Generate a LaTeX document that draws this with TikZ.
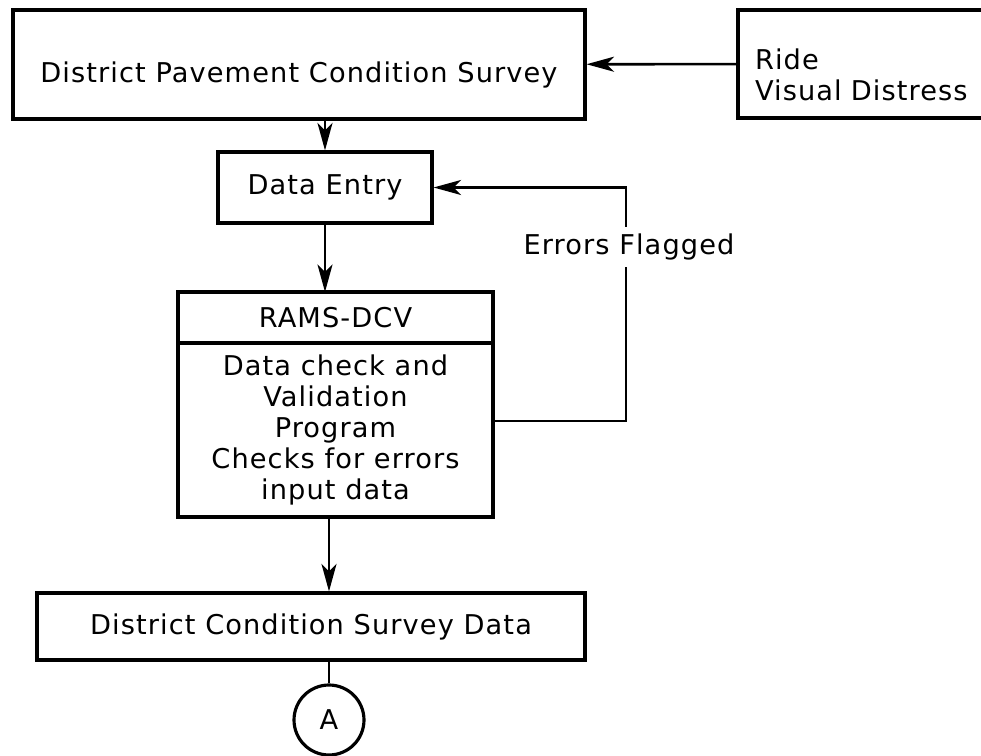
\documentclass[tikz,border=0pt]{standalone}
\usepackage{fontspec}
\setmainfont{DejaVu Sans}[LetterSpace=4]
\usetikzlibrary{positioning,arrows.meta}

\begin{document}
\begin{tikzpicture}[x=0.02cm,y=-0.02cm,
				box/.style={draw,line width=1.8pt,inner sep=0pt,align=center,font=\fontsize{15.5}{17.6}\selectfont},
				flow/.style={line width=1.5pt,-{Stealth[length=0.55cm,width=0.3cm,inset=0.15cm]}},
				lbl/.style={font=\fontsize{15.5}{17.6}\selectfont}]
				\useasboundingbox (0,0) rectangle (981,756);
				
				\path (299,64.5) node[box,minimum width=11.44cm,minimum height=2.18cm,text height=0.84cm] (survey) {District Pavement Condition Survey};
				\path (866.5,64) node[box,minimum width=5.14cm,minimum height=2.16cm,text width=4.46cm,align=left] (ride) {\rule{0pt}{0.84cm}Ride\\Visual Distress};
				\path (325,187.5) node[box,minimum width=4.28cm,minimum height=1.42cm] (entry) {Data Entry};
				\path (335.5,317.5) node[box,outer sep=0pt,minimum width=6.3cm,minimum height=1.02cm] (ramstitle) {RAMS-DCV};
				\node[box,outer sep=0pt,minimum width=6.3cm,minimum height=3.48cm,below=0pt of ramstitle] (ramsbody) {Data check and\\Validation\\Program\\Checks for errors\\input data};
				\path (311,626.5) node[box,minimum width=10.96cm,minimum height=1.34cm] (dcsd) {District Condition Survey Data};
				\path (329,720) node[box,circle,minimum size=1.4cm] (circA) {A};
				\coordinate (fbk) at (626,421);
				
				\draw[flow] (ride) -- (survey);
				\draw[flow] (survey.south -| entry.north) -- (entry.north);
				\draw[flow] (entry.south) -- (entry.south |- ramstitle.north);
				\draw[flow] (ramsbody.south -| circA) -- (dcsd.north -| circA);
				\draw[line width=1.5pt] (circA |- dcsd.south) -- (circA);
				\draw[flow] (ramsbody.east |- fbk) -- (fbk) |- (entry.east);
				
				\path (629,247) node[lbl,fill=white,inner xsep=0pt,inner ysep=0.14cm] (flag) {Errors Flagged};
\end{tikzpicture}
\end{document}
